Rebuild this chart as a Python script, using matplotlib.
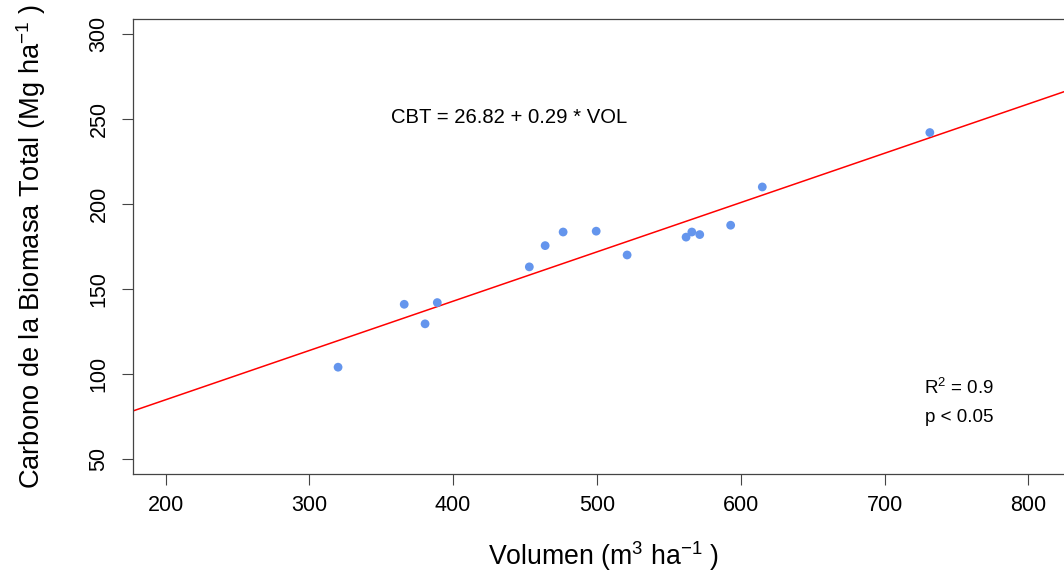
import matplotlib
matplotlib.use("Agg")
import matplotlib.pyplot as plt
import numpy as np

plt.rcParams['font.family'] = ['Liberation Sans', 'DejaVu Sans']
plt.rcParams['mathtext.fontset'] = 'custom'
plt.rcParams['mathtext.rm'] = 'Liberation Sans'
plt.rcParams['mathtext.it'] = 'Liberation Sans'

# Datos
volumen = [320, 366, 380.5, 389, 453, 464, 476.5, 499.5, 521, 562, 566, 571.5, 593, 615, 731.5]
carbono = [104, 141, 129.5, 142, 163, 175.5, 183.5, 184, 170, 180.5, 183.5, 182, 187.5, 210, 242]

intercepto = 26.82
pendiente = 0.29

x_ticks = [200, 300, 400, 500, 600, 700, 800]
y_ticks = [50, 100, 150, 200, 250, 300]

fig = plt.figure(figsize=(10.64, 5.75), dpi=100)
ax = fig.add_axes([0.125, 0.1757, 1.01 - 0.125, 0.967 - 0.1757])

# Recta de regresión
xl = np.array([177.4, 832.2])
ax.plot(xl, intercepto + pendiente * xl, color='red', lw=1.1, zorder=2)

# Puntos
ax.scatter(volumen, carbono, s=40, color='#6495ED', edgecolor='none', zorder=3)

ax.set_xlim(177.4, 832.2)
ax.set_ylim(41.2, 308.8)
ax.set_xticks(x_ticks)
ax.set_yticks(y_ticks)
ax.tick_params(direction='out', length=8, width=0.8, color='#444444', labelsize=15.5)
ax.tick_params(axis='x', pad=7)
ax.tick_params(axis='y', pad=9)
for lab in ax.get_yticklabels():
    lab.set_rotation(90)
    lab.set_va('center')
for sp in ax.spines.values():
    sp.set_color('#444444')
    sp.set_linewidth(0.9)

ax.set_xlabel(r'Volumen (m$^{3}$ ha$^{-1}$ )', fontsize=19.2, labelpad=17)
ax.set_ylabel(r'Carbono de la Biomasa Total (Mg ha$^{-1}$ )', fontsize=19.6, labelpad=29)

ax.text(439, 251, 'CBT = 26.82 + 0.29 * VOL', fontsize=14.6, ha='center', va='center')
ax.text(752, 92, r'R$^{2}$ = 0.9', fontsize=13.5, ha='center', va='center')
ax.text(752, 74.5, 'p < 0.05', fontsize=13.5, ha='center', va='center')

fig.savefig('out.png', dpi=100)
